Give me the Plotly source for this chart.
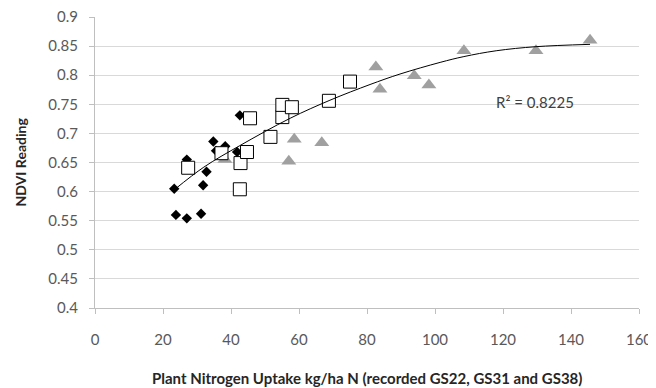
import plotly.graph_objects as go

# GS22 (black diamonds)
gs22_x = [23.3, 23.8, 27.0, 31.2, 31.8, 32.8, 34.8, 35.6, 38.3, 41.8, 42.6, 27.0]
gs22_y = [0.605, 0.560, 0.554, 0.562, 0.611, 0.634, 0.686, 0.670, 0.678, 0.668, 0.731, 0.655]
# GS31 (open squares)
gs31_x = [27.4, 37.2, 42.6, 42.8, 44.7, 45.6, 51.6, 55.1, 55.1, 57.9, 68.8, 75.0]
gs31_y = [0.641, 0.666, 0.604, 0.649, 0.668, 0.726, 0.694, 0.728, 0.749, 0.745, 0.756, 0.789]
# GS38 (grey triangles)
gs38_x = [38.2, 57.0, 58.6, 66.7, 82.6, 83.8, 93.9, 98.2, 108.5, 129.7, 145.6]
gs38_y = [0.655, 0.652, 0.690, 0.684, 0.814, 0.776, 0.799, 0.783, 0.842, 0.842, 0.860]

# polynomial trend line
trend_x = [23.5, 32.0, 42.6, 57.4, 69.1, 80.9, 89.7, 101.5, 108.5, 118.0, 129.7, 145.6]
trend_y = [0.604, 0.642, 0.679, 0.726, 0.757, 0.784, 0.802, 0.822, 0.832, 0.842, 0.849, 0.853]

r2_text = "R² = 0.8225"
x_ticks = [0, 20, 40, 60, 80, 100, 120, 140, 160]
y_ticks = [0.4, 0.45, 0.5, 0.55, 0.6, 0.65, 0.7, 0.75, 0.8, 0.85, 0.9]
y_tick_text = ["0.4", "0.45", "0.5", "0.55", "0.6", "0.65", "0.7", "0.75", "0.8", "0.85", "0.9"]

FONT = "Lato"
fig = go.Figure()
fig.add_trace(go.Scatter(x=gs22_x, y=gs22_y, mode="markers",
                         marker=dict(symbol="diamond", size=8, color="black"), name="GS22"))
fig.add_trace(go.Scatter(x=gs38_x, y=gs38_y, mode="markers",
                         marker=dict(symbol="triangle-up", size=13, color="#a0a0a0"), name="GS38"))
fig.add_trace(go.Scatter(x=gs31_x, y=gs31_y, mode="markers",
                         marker=dict(symbol="square", size=13, color="white",
                                     line=dict(color="black", width=1)), name="GS31"))
fig.add_trace(go.Scatter(x=trend_x, y=trend_y, mode="lines",
                         line=dict(color="black", width=1, shape="spline", smoothing=1.0),
                         name="Poly"))

# the page body has an 8px margin, so the figure is 8px smaller in each direction
fig.update_layout(
    template="none",
    width=648, height=380,
    margin=dict(l=87, r=17, t=9, b=80, pad=0, autoexpand=False),
    paper_bgcolor="white", plot_bgcolor="white",
    showlegend=False,
    font=dict(family=FONT, size=15, color="#595959"),
    xaxis=dict(range=[0, 160], tickvals=x_ticks, showgrid=False, zeroline=False,
               automargin=False, ticklabeloverflow="allow",
               showline=True, linecolor="#bfbfbf", linewidth=1,
               ticks="outside", ticklen=5, tickcolor="#bfbfbf",
               ticklabelstandoff=13, tickfont=dict(size=15, color="#595959")),
    yaxis=dict(range=[0.4, 0.9], tickvals=y_ticks, ticktext=y_tick_text,
               automargin=False, ticklabeloverflow="allow",
               showgrid=True, gridcolor="#d9d9d9", gridwidth=1, zeroline=False,
               showline=True, linecolor="#bfbfbf", linewidth=1,
               ticks="outside", ticklen=5, tickcolor="#bfbfbf",
               ticklabelstandoff=8, tickfont=dict(size=15, color="#595959")),
    annotations=[
        dict(text="<b>Plant Nitrogen Uptake kg/ha N (recorded GS22, GS31 and GS38)</b>",
             xref="paper", yref="paper", x=0.5, y=0, xanchor="center", yanchor="middle",
             yshift=-70, showarrow=False, font=dict(family=FONT, size=15, color="#262626")),
        dict(text="<b>NDVI Reading</b>", xref="paper", yref="paper", x=0, y=0.5,
             xanchor="center", yanchor="middle", xshift=-75, textangle=-90,
             showarrow=False, font=dict(family=FONT, size=14, color="#262626")),
        dict(text=r2_text, xref="x", yref="y", x=129.4, y=0.754, showarrow=False,
             xanchor="center", yanchor="middle", font=dict(family=FONT, size=15, color="#404040")),
    ],
)
fig.write_html("out.html")
